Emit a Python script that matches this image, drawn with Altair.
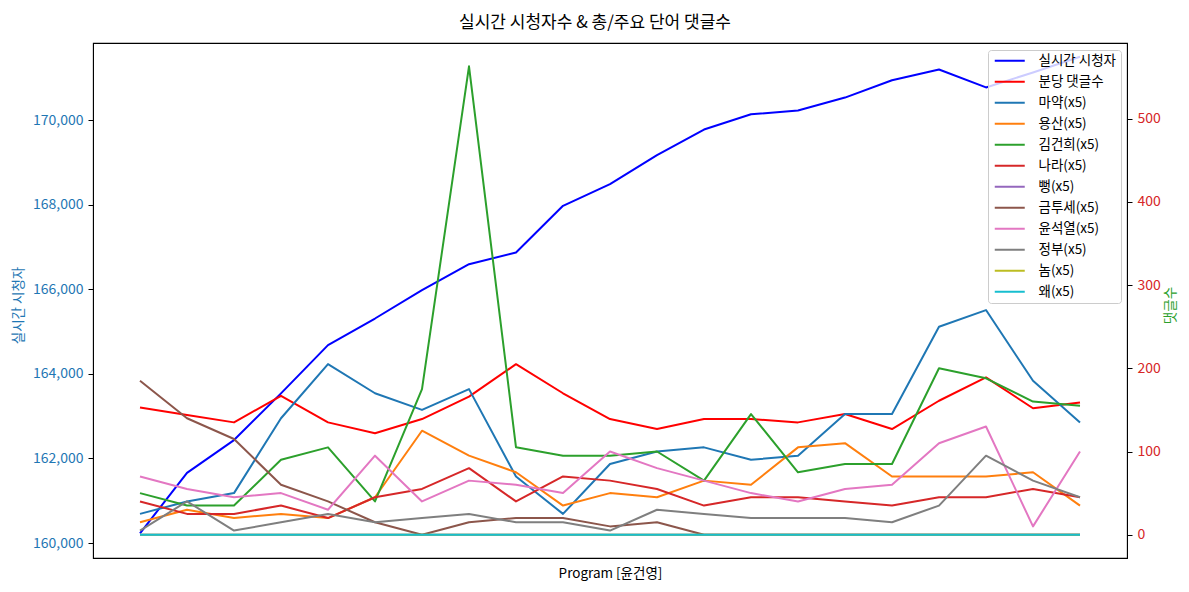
import altair as alt
import pandas as pd

FONT = "Noto Sans CJK KR"

idx = list(range(21))

viewers = [160230, 161660, 162435, 163540, 164680, 165310, 165980, 166595, 166870, 167975,
           168490, 169175, 169780, 170140, 170230, 170535, 170945, 171200, 170775, 171130, 171500]
comments = [153, 144, 135, 167, 135, 122, 139, 166, 205, 170, 139, 127, 139, 139, 135, 145,
            127, 161, 189, 152, 159]
k_drug = [25, 40, 50, 140, 205, 170, 150, 175, 70, 25, 85, 100, 105, 90, 95, 145, 145, 250, 270, 185, 135]
k_yongsan = [15, 30, 20, 25, 20, 45, 125, 95, 75, 35, 50, 45, 65, 60, 105, 110, 70, 70, 70, 75, 35]
k_kim = [50, 35, 35, 90, 105, 40, 175, 563, 105, 95, 95, 100, 65, 145, 75, 85, 85, 200, 188, 160, 155]
k_nara = [40, 25, 25, 35, 20, 45, 55, 80, 40, 70, 65, 55, 35, 45, 45, 40, 35, 45, 45, 55, 45]
k_bbeong = [0, 0, 0, 0, 0, 0, 0, 0, 0, 0, 0, 0, 0, 0, 0, 0, 0, 0, 0, 0, 0]
k_tax = [185, 140, 115, 60, 40, 15, 0, 15, 20, 20, 10, 15, 0, 0, 0, 0, 0, 0, 0, 0, 0]
k_yoon = [70, 55, 45, 50, 30, 95, 40, 65, 60, 50, 100, 80, 65, 50, 40, 55, 60, 110, 130, 10, 100]
k_gov = [5, 40, 5, 15, 25, 15, 20, 25, 15, 15, 5, 30, 25, 20, 20, 20, 15, 35, 95, 65, 45]
k_nom = [0, 0, 0, 0, 0, 0, 0, 0, 0, 0, 0, 0, 0, 0, 0, 0, 0, 0, 0, 0, 0]
k_wae = [0, 0, 0, 0, 0, 0, 0, 0, 0, 0, 0, 0, 0, 0, 0, 0, 0, 0, 0, 0, 0]

series_names = ["실시간 시청자", "분당 댓글수", "마약(x5)", "용산(x5)", "김건희(x5)", "나라(x5)",
                "뻥(x5)", "금투세(x5)", "윤석열(x5)", "정부(x5)", "놈(x5)", "왜(x5)"]
series_colors = ["#0000ff", "#ff0000", "#1f77b4", "#ff7f0e", "#2ca02c", "#d62728",
                 "#9467bd", "#8c564b", "#e377c2", "#7f7f7f", "#bcbd22", "#17becf"]

right_series = [comments, k_drug, k_yongsan, k_kim, k_nara, k_bbeong, k_tax, k_yoon, k_gov, k_nom, k_wae]

df_left = pd.DataFrame({"idx": idx, "value": viewers, "series": series_names[0]})
rows = []
for name, vals in zip(series_names[1:], right_series):
    for i, v in zip(idx, vals):
        rows.append({"idx": i, "value": v, "series": name, "order": series_names.index(name)})
df_right = pd.DataFrame(rows)

color = alt.Color(
    "series:N",
    scale=alt.Scale(domain=series_names, range=series_colors),
    legend=alt.Legend(
        title=None, orient="none", legendX=895, legendY=7,
        padding=4, fillColor="rgba(255,255,255,0.8)", strokeColor="#cccccc",
        cornerRadius=3, labelFontSize=13.5, labelFont=FONT, labelColor="#000000",
        rowPadding=6, symbolSize=64, symbolType="M-1,0H6.5", symbolStrokeWidth=2,
        labelOffset=33, labelLimit=300,
    ),
)

x = alt.X("idx:Q", scale=alt.Scale(domain=[-1, 21], nice=False, zero=False),
          axis=alt.Axis(title="Program [윤건영]", labels=False, ticks=False, grid=False,
                        domain=False, titleFont=FONT, titleFontSize=13.5, titleFontWeight="normal",
                        titleColor="#000000", titlePadding=8))

left = alt.Chart(df_left).mark_line(strokeWidth=2, strokeJoin="round").encode(
    x=x,
    y=alt.Y("value:Q", scale=alt.Scale(domain=[159646, 171826], nice=False, zero=False),
            axis=alt.Axis(title="실시간 시청자", format=",d",
                          values=[160000, 162000, 164000, 166000, 168000, 170000],
                          grid=False, tickSize=5, labelPadding=5, tickColor="#000000",
                          domainColor="#000000", labelColor="#1f77b4", titleColor="#1f77b4",
                          labelFont=FONT, titleFont=FONT, labelFontSize=14, titleFontSize=13.5,
                          titleFontWeight="normal", titleAngle=270, titleAlign="center",
                          titleBaseline="middle", titleX=-75, titleY=262)),
    color=color,
)

right = alt.Chart(df_right).mark_line(strokeWidth=2, strokeJoin="round").encode(
    x=x,
    y=alt.Y("value:Q", scale=alt.Scale(domain=[-28, 591], nice=False, zero=False),
            axis=alt.Axis(title="댓글수", orient="right", values=[0, 100, 200, 300, 400, 500],
                          grid=False, tickSize=5, labelPadding=5, tickColor="#000000",
                          domainColor="#000000", labelColor="#d62728", titleColor="#2ca02c",
                          labelFont=FONT, titleFont=FONT, labelFontSize=14, titleFontSize=13.5,
                          titleFontWeight="normal", titleAngle=270, titleAlign="center",
                          titleBaseline="middle", titleX=43, titleY=262)),
    color=color,
    order=alt.Order("order:Q"),
)

chart = alt.layer(left, right).resolve_scale(y="independent").properties(
    width=1034, height=515,
    padding={"left": 85, "top": 35, "right": 54, "bottom": 26},
    autosize=alt.AutoSizeParams(type="none"),
    background="white",
    title=alt.TitleParams(text="실시간 시청자수 & 총/주요 단어 댓글수", font=FONT, fontSize=17,
                          fontWeight="normal", color="#000000", anchor="middle", dx=-15, offset=11),
).configure_view(stroke="#000000", strokeWidth=1.1)

chart.save("out.html", embed_options={"renderer": "svg", "actions": False})
